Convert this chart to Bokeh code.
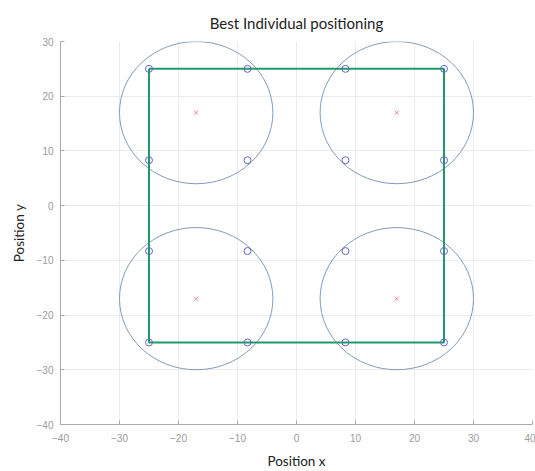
from bokeh.plotting import figure
from bokeh.models import Range1d, FixedTicker
from bokeh.embed import file_html
from bokeh.resources import INLINE

# ---- data ----
title_text = "Best Individual positioning"
x_label = "Position x"
y_label = "Position y"

x_ticks = [-40, -30, -20, -10, 0, 10, 20, 30, 40]
y_ticks = [-40, -30, -20, -10, 0, 10, 20, 30]

# coverage circles (centres and radius)
centre_x = [-17, 17, -17, 17]
centre_y = [17, 17, -17, -17]
circle_radius = [13, 13, 13, 13]

# square boundary
square_x = [-25, 25, 25, -25, -25]
square_y = [25, 25, -25, -25, 25]

# sensor positions
sensor_x = [-25, -8.3, -25, -8.3, 8.3, 25, 8.3, 25,
            -25, -8.3, -25, -8.3, 8.3, 25, 8.3, 25]
sensor_y = [25, 25, 8.3, 8.3, 25, 25, 8.3, 8.3,
            -8.3, -8.3, -25, -25, -8.3, -8.3, -25, -25]

# ---- figure ----
p = figure(width=535, height=471, output_backend="svg", toolbar_location=None,
           x_range=Range1d(-40, 40), y_range=Range1d(-40, 30),
           min_border_left=60, min_border_right=3,
           min_border_top=41, min_border_bottom=45)

p.title.text = title_text
p.title.align = "center"
p.title.text_font = "Lato"
p.title.text_font_style = "normal"
p.title.text_font_size = "15px"
p.title.text_color = "#222222"
p.title.standoff = 20

p.outline_line_color = None
p.background_fill_color = "white"

for ax, ticks in ((p.xaxis, x_ticks), (p.yaxis, y_ticks)):
    ax.ticker = FixedTicker(ticks=ticks)
    ax.major_tick_in = 4
    ax.major_tick_out = 0
    ax.minor_tick_in = 0
    ax.minor_tick_out = 0
    ax.axis_line_color = "#a8a8a8"
    ax.major_tick_line_color = "#a8a8a8"
    ax.major_label_text_font = "Liberation Sans"
    ax.major_label_text_font_size = "10px"
    ax.major_label_text_color = "#9a9a9a"
    ax.axis_label_text_font = "Lato"
    ax.axis_label_text_font_size = "13.5px"
    ax.axis_label_text_font_style = "normal"
    ax.axis_label_text_color = "#222222"

p.xaxis.axis_label = x_label
p.yaxis.axis_label = y_label
p.xaxis.major_label_standoff = 9
p.yaxis.major_label_standoff = 7
p.xaxis.axis_label_standoff = 8
p.yaxis.axis_label_standoff = 7

p.xgrid.ticker = FixedTicker(ticks=x_ticks)
p.ygrid.ticker = FixedTicker(ticks=y_ticks)
p.grid.grid_line_color = "#ebebeb"
p.grid.grid_line_width = 1

# circles
p.ellipse(x=centre_x, y=centre_y, width=[2 * r for r in circle_radius],
          height=[2 * r for r in circle_radius],
          fill_color=None, line_color="#7391b3", line_width=0.9)

# centres
p.scatter(x=centre_x, y=centre_y, marker="x", size=6,
          line_color="#e0607a", line_width=1, alpha=0.75)

# square
p.line(x=square_x, y=square_y, line_color="#1e9a6a", line_width=2)

# sensors
p.scatter(x=sensor_x, y=sensor_y, marker="circle", size=7,
          fill_color=None, line_color="#6464c8", line_width=1)

open("out.html", "w").write(file_html(p, INLINE))
